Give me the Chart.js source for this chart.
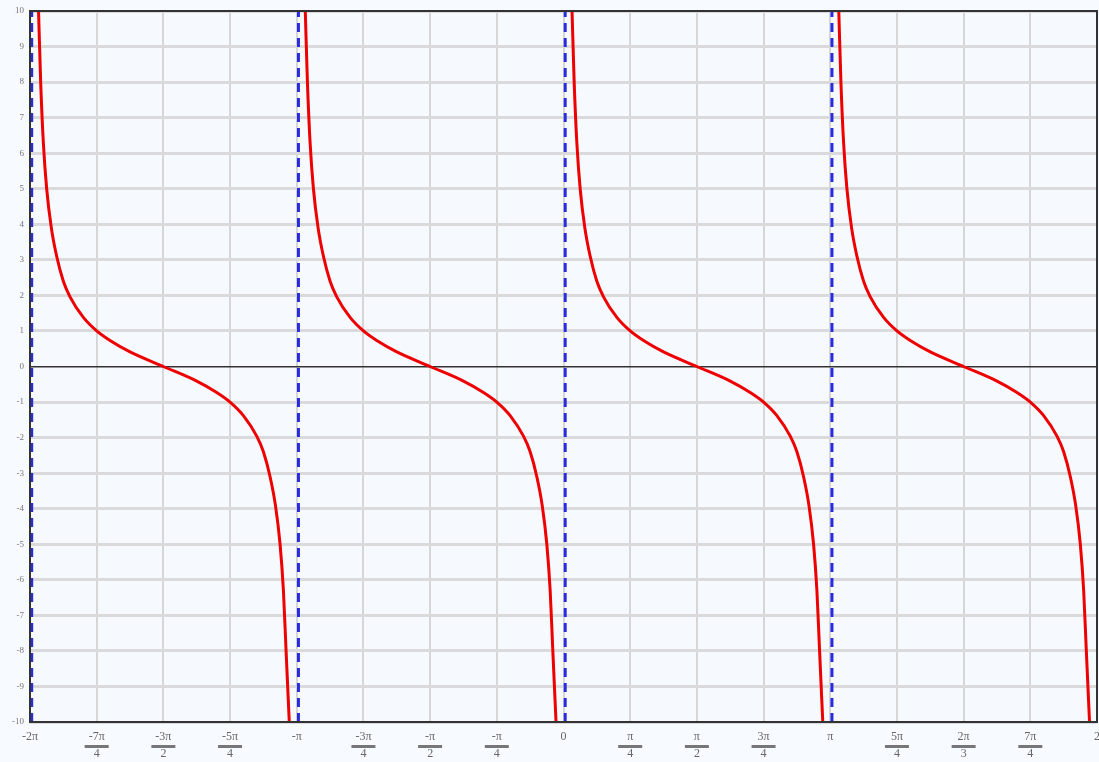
<!DOCTYPE html>
<html>
<head>
<meta charset="utf-8">
<script src="https://cdn.jsdelivr.net/npm/chart.js@4.4.1/dist/chart.umd.min.js"></script>
<style>
  html, body { margin: 0; padding: 0; background: #f7fafe; }
  #wrap { width: 1099px; height: 762px; }
</style>
</head>
<body>
<div id="wrap"><canvas id="cot"></canvas></div>
<script>
// x ticks at multiples of pi/4
const xTickMult = [-8, -7, -6, -5, -4, -3, -2, -1, 0, 1, 2, 3, 4, 5, 6, 7, 8];
const xTickNum = ['-2π', '-7π', '-3π', '-5π', '-π', '-3π', '-π', '-π', '0', 'π', 'π', '3π', 'π', '5π', '2π', '7π', '2'];
const xTickDen = ['', '4', '2', '4', '', '4', '2', '4', '', '4', '2', '4', '', '4', '3', '4', ''];
const yTicks = [-10, -9, -8, -7, -6, -5, -4, -3, -2, -1, 0, 1, 2, 3, 4, 5, 6, 7, 8, 9, 10];

// asymptote positions, in multiples of pi
const asymptotes = [-2, -1, 0, 1];
// start of each plotted branch, in multiples of pi
const branchStarts = [-2, -1, 0, 1];

// one branch: offset from its asymptote (in pi) and y
const branchOffset = [0.032, 0.04, 0.05, 0.0625, 0.08, 0.1, 0.125, 0.15, 0.2, 0.25, 0.3, 0.375, 0.5,
                      0.625, 0.7, 0.75, 0.8, 0.85, 0.875, 0.9, 0.92, 0.9375, 0.95, 0.96, 0.972];
const branchY = [10, 8, 6.3, 5, 3.9, 3.1, 2.4, 1.96, 1.38, 1.0, 0.73, 0.41, 0,
                 -0.41, -0.73, -1.0, -1.38, -1.96, -2.4, -3.1, -3.9, -5, -6.3, -8, -10];

const datasets = [];
branchStarts.forEach(s => {
    datasets.push({
        data: branchOffset.map((t, i) => ({ x: (s + t) * Math.PI, y: branchY[i] })),
        borderColor: '#ee0000',
        borderWidth: 3,
        pointRadius: 0,
        cubicInterpolationMode: 'monotone',
        order: 1
    });
});
asymptotes.forEach(a => {
    datasets.push({
        data: [{ x: a * Math.PI + 0.02, y: -10 }, { x: a * Math.PI + 0.02, y: 10 }],
        borderColor: '#2a2ae0',
        borderWidth: 3,
        borderDash: [9, 6],
        pointRadius: 0,
        order: 2
    });
});

// frame round the plot and fraction bars under the x labels
const framePlugin = {
    id: 'frame',
    afterDraw(chart) {
        const { ctx, chartArea: a } = chart;
        const xs = chart.scales.x;
        ctx.save();
        ctx.strokeStyle = '#333';
        ctx.lineWidth = 2;
        ctx.strokeRect(a.left, a.top, a.right - a.left, a.bottom - a.top);
        ctx.fillStyle = '#777';
        xTickMult.forEach((m, i) => {
            if (!xTickDen[i]) return;
            const px = xs.getPixelForValue(m * Math.PI / 4);
            ctx.fillRect(px - 12, a.bottom + 23, 24, 3);
        });
        ctx.restore();
    }
};

const bgPlugin = {
    id: 'bg',
    beforeDraw(chart) {
        const { ctx, chartArea: a } = chart;
        ctx.save();
        ctx.fillStyle = '#f6faff';
        ctx.fillRect(a.left, a.top, a.right - a.left, a.bottom - a.top);
        ctx.restore();
    }
};

new Chart(document.getElementById('cot'), {
    type: 'line',
    data: { datasets },
    plugins: [bgPlugin, framePlugin],
    options: {
        responsive: true,
        maintainAspectRatio: false,
        animation: false,
        layout: { padding: { top: 11, right: 2, left: 0, bottom: 0 } },
        plugins: { legend: { display: false }, tooltip: { enabled: false } },
        scales: {
            x: {
                type: 'linear',
                min: -2 * Math.PI,
                max: 2 * Math.PI,
                afterBuildTicks: s => { s.ticks = xTickMult.map(m => ({ value: m * Math.PI / 4 })); },
                afterFit: s => { s.height = 40; s.paddingLeft = 0; s.paddingRight = 0; },
                ticks: {
                    autoSkip: false,
                    maxRotation: 0,
                    padding: 6,
                    color: '#666',
                    font: { family: 'Liberation Serif', size: 12, lineHeight: 1.45 },
                    callback: (v, i) => xTickDen[i] ? [xTickNum[i], xTickDen[i]] : xTickNum[i]
                },
                grid: { color: '#d6d6d6', lineWidth: 2, drawTicks: false },
                border: { display: false }
            },
            y: {
                min: -10,
                max: 10,
                afterBuildTicks: s => { s.ticks = yTicks.map(v => ({ value: v })); },
                afterFit: s => { s.width = 30; s.paddingTop = 0; s.paddingBottom = 0; },
                ticks: {
                    padding: 6,
                    color: '#777',
                    font: { family: 'Liberation Serif', size: 9 }
                },
                grid: {
                    color: c => c.tick && c.tick.value === 0 ? '#333' : '#dadada',
                    lineWidth: c => c.tick && c.tick.value === 0 ? 1.5 : 3,
                    drawTicks: false
                },
                border: { display: false }
            }
        }
    }
});
</script>
</body>
</html>
